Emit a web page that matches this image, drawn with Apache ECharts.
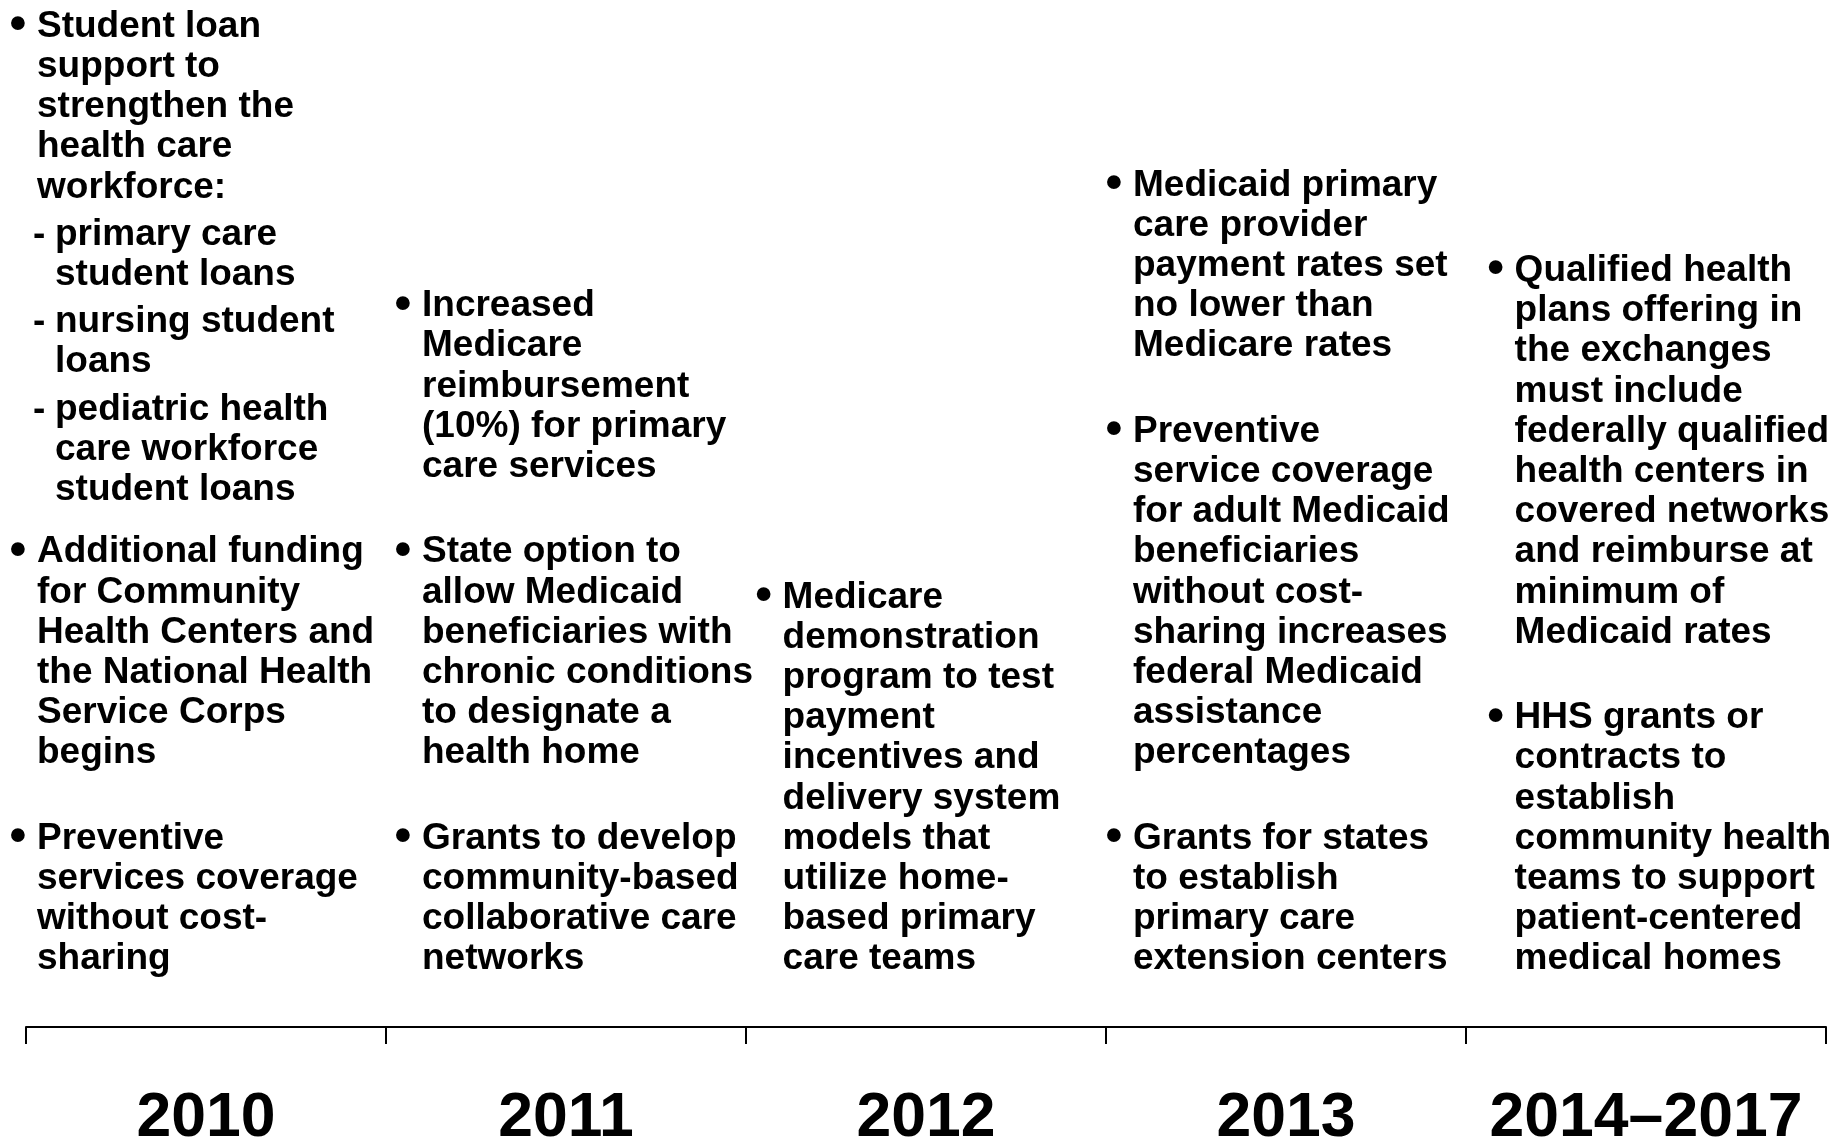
<!DOCTYPE html>
<html>
<head>
<meta charset="utf-8">
<script src="https://cdn.jsdelivr.net/npm/echarts@6/dist/echarts.min.js"></script>
<style>
html,body{margin:0;padding:0;background:#fff;}
#chart{width:1848px;height:1139px;}
</style>
</head>
<body>
<div id="chart"></div>
<script>
// ---- data ----
const years = ['2010', '2011', '2012', '2013', '2014\u20132017'];

// each item: [marker, text]  marker '•' = main bullet, '-' = sub item
const provisions2010 = [
  ['\u2022', 'Student loan\nsupport to\nstrengthen the\nhealth care\nworkforce:'],
  ['-', 'primary care\nstudent loans'],
  ['-', 'nursing student\nloans'],
  ['-', 'pediatric health\ncare workforce\nstudent loans'],
  ['\u2022', 'Additional funding\nfor Community\nHealth Centers and\nthe National Health\nService Corps\nbegins'],
  ['\u2022', 'Preventive\nservices coverage\nwithout cost-\nsharing']
];
const provisions2011 = [
  ['\u2022', 'Increased\nMedicare\nreimbursement\n(10%) for primary\ncare services'],
  ['\u2022', 'State option to\nallow Medicaid\nbeneficiaries with\nchronic conditions\nto designate a\nhealth home'],
  ['\u2022', 'Grants to develop\ncommunity-based\ncollaborative care\nnetworks']
];
const provisions2012 = [
  ['\u2022', 'Medicare\ndemonstration\nprogram to test\npayment\nincentives and\ndelivery system\nmodels that\nutilize home-\nbased primary\ncare teams']
];
const provisions2013 = [
  ['\u2022', 'Medicaid primary\ncare provider\npayment rates set\nno lower than\nMedicare rates'],
  ['\u2022', 'Preventive\nservice coverage\nfor adult Medicaid\nbeneficiaries\nwithout cost-\nsharing increases\nfederal Medicaid\nassistance\npercentages'],
  ['\u2022', 'Grants for states\nto establish\nprimary care\nextension centers']
];
const provisions2014 = [
  ['\u2022', 'Qualified health\nplans offering in\nthe exchanges\nmust include\nfederally qualified\nhealth centers in\ncovered networks\nand reimburse at\nminimum of\nMedicaid rates'],
  ['\u2022', 'HHS grants or\ncontracts to\nestablish\ncommunity health\nteams to support\npatient-centered\nmedical homes']
];
const provisions = [provisions2010, provisions2011, provisions2012, provisions2013, provisions2014];

// ---- layout (pixels) ----
const FONT = '"Liberation Sans", Arial, Helvetica, sans-serif';
const FS = 37;
const LH = 40.2;
const BULLET_FS = 48;
const textOffset = [11, 36, 36.6, 27, 48.6];       // text left from band start
const firstBaselines = [
  [39.5, 247.3, 334.8, 422.5, 565, 851.4],
  [318.8, 565, 851.4],
  [610.2],
  [198.2, 444.4, 851.4],
  [283.6, 730.8]
];
const BASE_TO_TOP = LH / 2 + 0.3465 * FS;

const chart = echarts.init(document.getElementById('chart'), null, {renderer: 'canvas'});

function renderItem(params, api) {
  const i = api.value(0);
  const center = api.coord([i, 0])[0];
  const bandW = api.size([1, 0])[0];
  const textLeft = center - bandW / 2 + textOffset[i];
  const children = [];
  provisions[i].forEach(function (item, k) {
    const base = firstBaselines[i][k];
    const top = base - BASE_TO_TOP;
    const isSub = item[0] === '-';
    if (isSub) {
      children.push({
        type: 'text',
        x: textLeft - 4, y: top,
        style: {text: item[0], fontFamily: FONT, fontSize: FS, fontWeight: 'bold',
                fill: '#000', lineHeight: LH, verticalAlign: 'top', align: 'left'}
      });
    } else {
      children.push({
        type: 'text',
        x: textLeft - 19, y: base - 13.5,
        style: {text: item[0], fontFamily: FONT, fontSize: BULLET_FS, fontWeight: 'bold',
                fill: '#000', verticalAlign: 'middle', align: 'center'}
      });
    }
    children.push({
      type: 'text',
      x: isSub ? textLeft + 18 : textLeft, y: top,
      style: {text: item[1], fontFamily: FONT, fontSize: FS, fontWeight: 'bold',
              fill: '#000', lineHeight: LH, verticalAlign: 'top', align: 'left'}
    });
  });
  return {type: 'group', children: children};
}

chart.setOption({
  backgroundColor: '#ffffff',
  animation: false,
  grid: {left: 26, right: 22, top: 10, bottom: 112, containLabel: false, outerBoundsMode: 'none'},
  xAxis: {
    type: 'category',
    data: years,
    boundaryGap: true,
    axisLine: {show: true, lineStyle: {color: '#000', width: 2}},
    axisTick: {show: true, length: 17, lineStyle: {color: '#000', width: 2}},
    axisLabel: {color: '#000', fontSize: 62.5, fontWeight: 'bold', fontFamily: FONT,
                margin: 60, interval: 0},
    splitLine: {show: false}
  },
  yAxis: {type: 'value', min: 0, max: 1, show: false},
  series: [{
    type: 'custom',
    renderItem: renderItem,
    data: years.map(function (y, i) { return [i, 0]; }),
    encode: {x: 0, y: 1},
    clip: false,
    silent: true
  }]
});
</script>
</body>
</html>
